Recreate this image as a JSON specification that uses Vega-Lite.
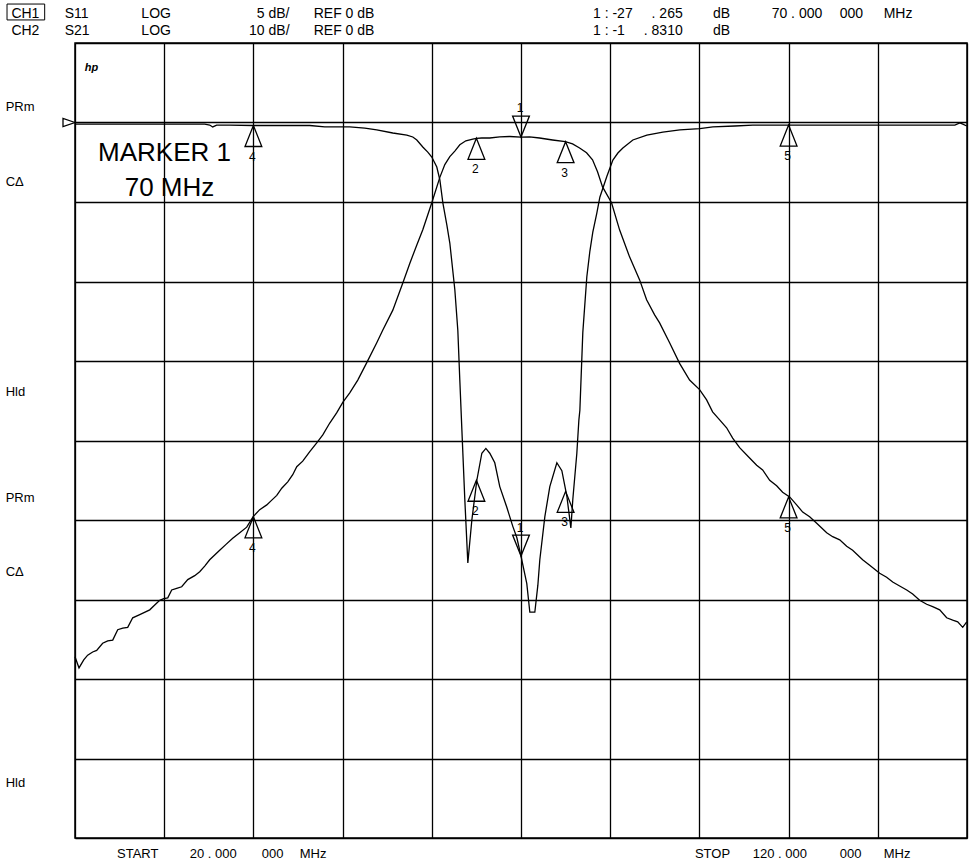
{
  "$schema": "https://vega.github.io/schema/vega-lite/v6.json",
  "width": 892,
  "height": 795,
  "autosize": {"type": "none"},
  "padding": {"left": 75, "top": 43, "right": 3, "bottom": 27},
  "background": "white",
  "config": {
    "view": {"stroke": "black", "strokeWidth": 1.5},
    "font": "Liberation Sans",
    "mark": {"color": "black"},
    "text": {"font": "Liberation Sans", "color": "black", "fill": "black"},
    "axis": {"grid": true, "gridColor": "black", "gridWidth": 1.3, "gridOpacity": 1, "labels": false, "ticks": false, "domain": false, "title": null, "tickCount": 10}
  },
  "datasets": {
    "s11": [
      {"f":20,"db":-0.1},{"f":22.77,"db":-0.1},{"f":28.38,"db":-0.1},{"f":34.54,"db":-0.1},{"f":35.1,"db":-0.16},{"f":35.44,"db":-0.28},{"f":35.88,"db":-0.16},{"f":37.34,"db":-0.16},{"f":39.93,"db":-0.19},{"f":42.96,"db":-0.19},{"f":46.32,"db":-0.19},{"f":48.0,"db":-0.28},{"f":50.8,"db":-0.28},{"f":52.49,"db":-0.35},{"f":53.83,"db":-0.47},{"f":55.63,"db":-0.66},{"f":57.2,"db":-0.79},{"f":57.87,"db":-0.91},{"f":58.32,"db":-1.1},{"f":58.99,"db":-1.54},{"f":59.55,"db":-1.86},{"f":60.0,"db":-2.17},{"f":60.56,"db":-2.8},{"f":60.9,"db":-3.6},{"f":61.24,"db":-5.06},{"f":61.69,"db":-6.45},{"f":62.02,"db":-7.58},{"f":62.58,"db":-10.5},{"f":62.92,"db":-13.1},{"f":63.14,"db":-16.2},{"f":63.37,"db":-19.3},{"f":63.7,"db":-23.7},{"f":64.04,"db":-27.7},{"f":64.49,"db":-25.0},{"f":65.05,"db":-22.5},{"f":65.61,"db":-20.8},{"f":66.06,"db":-20.5},{"f":66.5,"db":-20.8},{"f":67.06,"db":-21.4},{"f":67.62,"db":-22.9},{"f":68.41,"db":-24.2},{"f":69.08,"db":-25.4},{"f":69.53,"db":-26.1},{"f":70.0,"db":-27.27},{"f":70.65,"db":-29.0},{"f":70.99,"db":-30.8},{"f":71.55,"db":-30.8},{"f":71.89,"db":-29.1},{"f":72.11,"db":-27.5},{"f":72.67,"db":-24.8},{"f":73.23,"db":-22.9},{"f":74.02,"db":-21.4},{"f":74.58,"db":-21.9},{"f":75.14,"db":-23.5},{"f":75.59,"db":-25.5},{"f":75.81,"db":-23.7},{"f":76.26,"db":-20.8},{"f":76.49,"db":-18.7},{"f":76.6,"db":-18.1},{"f":76.93,"db":-13.2},{"f":77.38,"db":-9.7},{"f":77.72,"db":-8.1},{"f":78.05,"db":-6.9},{"f":78.5,"db":-5.7},{"f":78.84,"db":-4.7},{"f":79.62,"db":-3.4},{"f":80.3,"db":-2.36},{"f":80.86,"db":-1.92},{"f":81.42,"db":-1.6},{"f":82.54,"db":-1.1},{"f":84.11,"db":-0.79},{"f":85.9,"db":-0.6},{"f":87.81,"db":-0.47},{"f":90.05,"db":-0.38},{"f":91.51,"db":-0.28},{"f":93.97,"db":-0.22},{"f":95.99,"db":-0.16},{"f":101.26,"db":-0.16},{"f":106.87,"db":-0.16},{"f":112.48,"db":-0.16},{"f":118.64,"db":-0.16},{"f":119.2,"db":-0.03},{"f":119.53,"db":-0.1},{"f":119.97,"db":-0.22}
    ],
    "s21": [
      {"f":20.0,"db":-67.2},{"f":20.45,"db":-68.6},{"f":20.98,"db":-67.6},{"f":21.42,"db":-67.0},{"f":21.98,"db":-66.6},{"f":22.43,"db":-66.4},{"f":23.1,"db":-65.5},{"f":23.67,"db":-65.2},{"f":24.23,"db":-65.1},{"f":24.79,"db":-63.8},{"f":25.35,"db":-63.6},{"f":25.91,"db":-63.5},{"f":26.47,"db":-62.3},{"f":27.26,"db":-61.9},{"f":28.38,"db":-61.3},{"f":28.94,"db":-60.7},{"f":29.5,"db":-60.1},{"f":29.95,"db":-59.9},{"f":30.4,"db":-59.8},{"f":30.84,"db":-58.8},{"f":31.4,"db":-58.6},{"f":31.96,"db":-58.4},{"f":32.64,"db":-57.5},{"f":33.42,"db":-57.0},{"f":33.98,"db":-56.5},{"f":34.54,"db":-55.8},{"f":35.1,"db":-55.0},{"f":35.66,"db":-54.4},{"f":36.22,"db":-53.8},{"f":36.9,"db":-53.1},{"f":37.68,"db":-52.3},{"f":38.47,"db":-51.6},{"f":39.25,"db":-50.9},{"f":39.96,"db":-49.6},{"f":40.71,"db":-48.7},{"f":41.5,"db":-48.1},{"f":42.06,"db":-47.5},{"f":42.62,"db":-46.9},{"f":43.18,"db":-46.0},{"f":43.85,"db":-45.2},{"f":44.41,"db":-44.3},{"f":44.86,"db":-43.3},{"f":45.53,"db":-42.6},{"f":46.32,"db":-41.4},{"f":47.1,"db":-40.3},{"f":47.78,"db":-39.3},{"f":48.56,"db":-37.8},{"f":49.35,"db":-36.5},{"f":50.02,"db":-35.2},{"f":50.8,"db":-34.0},{"f":51.7,"db":-32.4},{"f":52.71,"db":-30.2},{"f":53.83,"db":-27.7},{"f":54.51,"db":-26.1},{"f":55.63,"db":-23.6},{"f":56.75,"db":-20.2},{"f":57.54,"db":-17.7},{"f":58.32,"db":-15.4},{"f":58.99,"db":-13.5},{"f":60.0,"db":-10.1},{"f":60.9,"db":-6.9},{"f":61.46,"db":-5.3},{"f":62.02,"db":-4.3},{"f":62.58,"db":-3.6},{"f":63.14,"db":-2.8},{"f":63.82,"db":-2.3},{"f":64.6,"db":-2.1},{"f":65.0,"db":-1.99},{"f":65.6,"db":-1.95},{"f":66.5,"db":-1.95},{"f":67.62,"db":-1.82},{"f":68.74,"db":-1.76},{"f":70.0,"db":-1.83},{"f":70.96,"db":-1.82},{"f":72.08,"db":-1.95},{"f":73.54,"db":-2.2},{"f":74.97,"db":-2.41},{"f":75.78,"db":-2.7},{"f":76.57,"db":-3.2},{"f":77.35,"db":-3.8},{"f":78.02,"db":-4.7},{"f":78.58,"db":-6.2},{"f":79.14,"db":-8.1},{"f":80.15,"db":-10.1},{"f":81.05,"db":-13.5},{"f":82.17,"db":-16.9},{"f":83.3,"db":-19.8},{"f":84.08,"db":-22.3},{"f":84.98,"db":-24.2},{"f":85.54,"db":-25.2},{"f":86.66,"db":-27.7},{"f":87.78,"db":-30.3},{"f":88.9,"db":-32.4},{"f":90.02,"db":-33.6},{"f":90.81,"db":-34.9},{"f":91.48,"db":-36.4},{"f":92.27,"db":-37.4},{"f":93.05,"db":-38.4},{"f":93.73,"db":-39.7},{"f":94.51,"db":-40.9},{"f":95.63,"db":-42.2},{"f":96.42,"db":-43.1},{"f":97.09,"db":-43.7},{"f":97.88,"db":-45.0},{"f":98.66,"db":-45.7},{"f":99.33,"db":-46.5},{"f":100.12,"db":-47.1},{"f":100.9,"db":-48.1},{"f":101.58,"db":-49.0},{"f":102.36,"db":-49.6},{"f":103.15,"db":-50.4},{"f":104.27,"db":-51.6},{"f":104.94,"db":-52.1},{"f":105.73,"db":-52.5},{"f":106.51,"db":-53.3},{"f":107.18,"db":-53.8},{"f":108.3,"db":-55.0},{"f":109.09,"db":-55.7},{"f":110.21,"db":-56.7},{"f":110.99,"db":-57.2},{"f":111.67,"db":-57.8},{"f":112.45,"db":-58.3},{"f":113.24,"db":-58.8},{"f":113.91,"db":-59.3},{"f":114.69,"db":-60.1},{"f":115.48,"db":-60.6},{"f":116.15,"db":-60.9},{"f":116.94,"db":-61.3},{"f":117.72,"db":-62.3},{"f":118.4,"db":-62.6},{"f":118.96,"db":-62.8},{"f":119.52,"db":-63.5},{"f":119.97,"db":-62.8}
    ],
    "m11": [
      {"m":"1","f":70,"db":-27.27},{"m":"2","f":65,"db":-22.5},{"m":"3","f":75,"db":-23.2},{"m":"4","f":40,"db":-0.19},{"m":"5","f":100,"db":-0.16}
    ],
    "m21": [
      {"m":"1","f":70,"db":-1.83},{"m":"2","f":65,"db":-1.99},{"m":"3","f":75,"db":-2.41},{"m":"4","f":40,"db":-49.6},{"m":"5","f":100,"db":-47.1}
    ],
    "header": [
      {"f":12.87,"db":6.82,"t":"CH1"},{"f":18.85,"db":6.82,"t":"S11"},{"f":27.44,"db":6.82,"t":"LOG"},{"f":46.76,"db":6.82,"t":"REF 0 dB"},{"f":78.07,"db":6.82,"t":"1 : -27"},{"f":91.52,"db":6.82,"t":"dB"},{"f":98.1,"db":6.82,"t":"70 . 000"},{"f":105.73,"db":6.82,"t":"000"},{"f":110.66,"db":6.82,"t":"MHz"},
      {"f":12.87,"db":5.75,"t":"CH2"},{"f":18.85,"db":5.75,"t":"S21"},{"f":27.44,"db":5.75,"t":"LOG"},{"f":46.76,"db":5.75,"t":"REF 0 dB"},{"f":78.07,"db":5.75,"t":"1 : -1"},{"f":91.52,"db":5.75,"t":"dB"}
    ],
    "headerRight": [
      {"f":44.05,"db":6.82,"t":"5 dB/"},{"f":44.05,"db":5.75,"t":"10 dB/"},{"f":88.13,"db":6.82,"t":". 265"},{"f":88.13,"db":5.75,"t":". 8310"}
    ],
    "footer": [
      {"f":24.71,"db":-46.0,"t":"START"},{"f":32.86,"db":-46.0,"t":"20 . 000"},{"f":40.93,"db":-46.0,"t":"000"},{"f":45.19,"db":-46.0,"t":"MHz"},
      {"f":89.5,"db":-46.0,"t":"STOP"},{"f":95.98,"db":-46.0,"t":"120 . 000"},{"f":105.73,"db":-46.0,"t":"000"},{"f":110.66,"db":-46.0,"t":"MHz"}
    ],
    "side": [
      {"f":12.23,"db":0.96,"t":"PRm"},{"f":12.23,"db":-3.72,"t":"CΔ"},{"f":12.23,"db":-16.93,"t":"Hld"},{"f":12.23,"db":-23.64,"t":"PRm"},{"f":12.23,"db":-28.25,"t":"CΔ"},{"f":12.23,"db":-41.54,"t":"Hld"}
    ],
    "big": [
      {"f":22.58,"db":-1.89,"t":"MARKER 1"},{"f":25.57,"db":-4.09,"t":"70 MHz"}
    ]
  },
  "layer": [
    {
      "encoding": {
        "x": {"field": "f", "type": "quantitative", "scale": {"domain": [20, 120], "nice": false, "zero": false}},
        "y": {"field": "db", "type": "quantitative", "scale": {"domain": [-45, 5], "nice": false, "zero": false}}
      },
      "layer": [
        {
          "data": {"name": "s11"},
          "mark": {"type": "line", "color": "black", "strokeWidth": 1.3}
        },
        {
          "data": {"name": "header"},
          "mark": {"type": "text", "align": "left", "baseline": "middle", "fontSize": 14, "color": "black"},
          "encoding": {"text": {"field": "t"}}
        },
        {
          "data": {"name": "headerRight"},
          "mark": {"type": "text", "align": "right", "baseline": "middle", "fontSize": 14, "color": "black"},
          "encoding": {"text": {"field": "t"}}
        },
        {
          "data": {"values": [{"f": 12.38, "f2": 16.6, "db": 7.45, "d2": 6.45}]},
          "mark": {"type": "rect", "fill": null, "fillOpacity": 0, "stroke": "black", "strokeWidth": 1},
          "encoding": {"x2": {"field": "f2"}, "y2": {"field": "d2"}}
        },
        {
          "data": {"name": "footer"},
          "mark": {"type": "text", "align": "left", "baseline": "middle", "fontSize": 13, "color": "black"},
          "encoding": {"text": {"field": "t"}}
        },
        {
          "data": {"name": "side"},
          "mark": {"type": "text", "align": "left", "baseline": "middle", "fontSize": 13, "color": "black"},
          "encoding": {"text": {"field": "t"}}
        },
        {
          "data": {"name": "big"},
          "mark": {"type": "text", "align": "left", "baseline": "middle", "fontSize": 26, "color": "black"},
          "encoding": {"text": {"field": "t"}}
        },
        {
          "data": {"values": [{"f": 21.1, "db": 3.43, "t": "hp"}]},
          "mark": {"type": "text", "align": "left", "baseline": "middle", "fontSize": 11, "fontStyle": "italic", "fontWeight": "bold", "color": "black"},
          "encoding": {"text": {"field": "t"}}
        },
        {
          "data": {"values": [{"f": 20, "db": 0}]},
          "mark": {"type": "point", "shape": "M0,0L-1,-0.35L-1,0.35Z", "size": 576, "filled": false, "stroke": "black", "strokeWidth": 1.3, "opacity": 1}
        },
        {
          "data": {"name": "m11"},
          "transform": [{"filter": "datum.m != '1'"}],
          "mark": {"type": "point", "shape": "M0,0L-0.4,1L0.4,1Z", "size": 1764, "filled": false, "stroke": "black", "strokeWidth": 1.3, "opacity": 1}
        },
        {
          "data": {"name": "m11"},
          "transform": [{"filter": "datum.m != '1'"}],
          "mark": {"type": "text", "dy": 31, "dx": -1, "fontSize": 12, "baseline": "middle", "align": "center", "color": "black"},
          "encoding": {"text": {"field": "m"}}
        },
        {
          "data": {"name": "m11"},
          "transform": [{"filter": "datum.m == '1'"}],
          "mark": {"type": "point", "shape": "M0,0L-0.4,-1L0.4,-1Z", "size": 1764, "filled": false, "stroke": "black", "strokeWidth": 1.3, "opacity": 1}
        },
        {
          "data": {"name": "m11"},
          "transform": [{"filter": "datum.m == '1'"}],
          "mark": {"type": "text", "dy": -28, "dx": -1, "fontSize": 12, "baseline": "middle", "align": "center", "color": "black"},
          "encoding": {"text": {"field": "m"}}
        }
      ]
    },
    {
      "encoding": {
        "x": {"field": "f", "type": "quantitative"},
        "y": {"field": "db", "type": "quantitative", "scale": {"domain": [-90, 10], "nice": false, "zero": false}, "axis": null}
      },
      "layer": [
        {
          "data": {"name": "s21"},
          "mark": {"type": "line", "color": "black", "strokeWidth": 1.3}
        },
        {
          "data": {"name": "m21"},
          "transform": [{"filter": "datum.m != '1'"}],
          "mark": {"type": "point", "shape": "M0,0L-0.4,1L0.4,1Z", "size": 1764, "filled": false, "stroke": "black", "strokeWidth": 1.3, "opacity": 1}
        },
        {
          "data": {"name": "m21"},
          "transform": [{"filter": "datum.m != '1'"}],
          "mark": {"type": "text", "dy": 31, "dx": -1, "fontSize": 12, "baseline": "middle", "align": "center", "color": "black"},
          "encoding": {"text": {"field": "m"}}
        },
        {
          "data": {"name": "m21"},
          "transform": [{"filter": "datum.m == '1'"}],
          "mark": {"type": "point", "shape": "M0,0L-0.4,-1L0.4,-1Z", "size": 1764, "filled": false, "stroke": "black", "strokeWidth": 1.3, "opacity": 1}
        },
        {
          "data": {"name": "m21"},
          "transform": [{"filter": "datum.m == '1'"}],
          "mark": {"type": "text", "dy": -29, "dx": -1, "fontSize": 12, "baseline": "middle", "align": "center", "color": "black"},
          "encoding": {"text": {"field": "m"}}
        }
      ]
    }
  ],
  "resolve": {"scale": {"y": "independent"}}
}
